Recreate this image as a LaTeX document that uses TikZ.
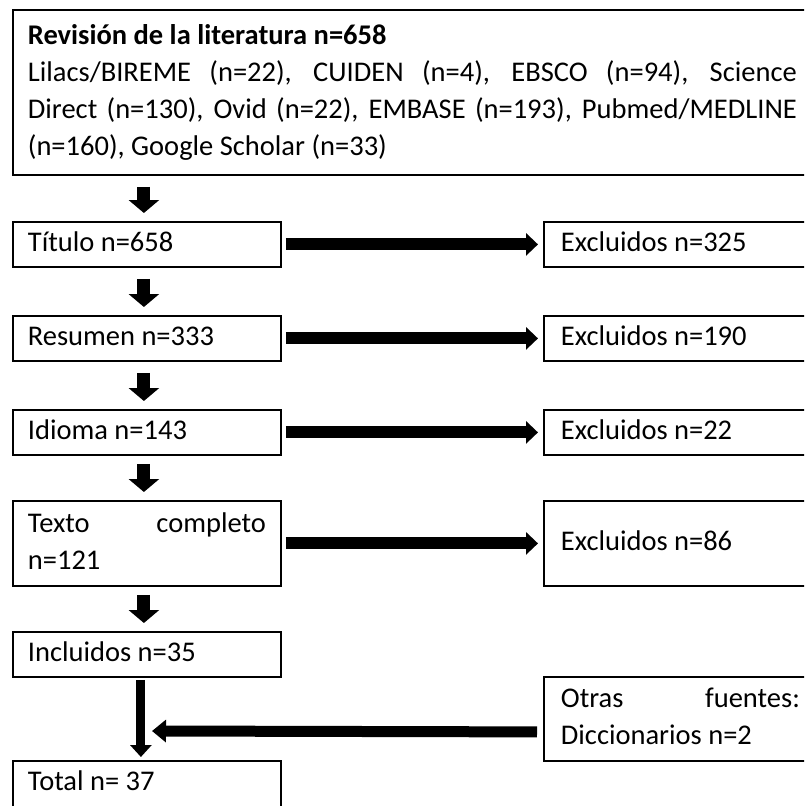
\documentclass[tikz,border=0pt]{standalone}
\usepackage{fontspec}
\setmainfont{Carlito}
\usetikzlibrary{arrows.meta,calc}
\newcommand{\fsz}{\fontsize{28.5}{37}\selectfont}
\begin{document}
\begin{tikzpicture}[x=1pt,y=-1pt,
  box/.style={draw, line width=1.8pt, anchor=north west, inner xsep=15pt, inner ysep=4pt, align=justify, font=\fsz, fill=white},
  lbox/.style={box, text width=238pt},
  rbox/.style={box, inner xsep=17pt, text width=245pt},
  varrow/.style={line width=13pt, -{Triangle[length=13pt,width=30pt]}},
  harrow/.style={line width=12pt, -{Triangle[length=12pt,width=22pt]}},
  varrowb/.style={line width=9pt, -{Triangle[length=12pt,width=21pt]}},
  larrow/.style={line width=11pt, -{Triangle[length=14pt,width=22pt]}}]
\useasboundingbox (0,0) rectangle (804,806);
\clip (0,0) rectangle (804,806);
\fill[white] (0,0) rectangle (804,806);

\node[box, inner ysep=8.5pt, text width=769pt] (top) at (12,9)
  {\strut\textbf{Revisión de la literatura n=658}\\
   Lilacs/BIREME (n=22), CUIDEN (n=4), EBSCO (n=94), Science\linebreak
   Direct (n=130), Ovid (n=22), EMBASE (n=193), Pubmed/MEDLINE\linebreak
   (n=160), Google Scholar (n=33)\strut};

\node[lbox] (titulo) at (12,221) {\strut Título n=658};
\node[rbox] (excl1) at (543,221) {\strut Excluidos n=325};
\node[lbox] (resumen) at (12,315) {\strut Resumen n=333};
\node[rbox] (excl2) at (543,315) {\strut Excluidos n=190};
\node[lbox] (idioma) at (12,409) {\strut Idioma n=143};
\node[rbox] (excl3) at (543,409) {\strut Excluidos n=22};
\node[lbox, inner ysep=5.5pt] (texto) at (12,500) {\strut Texto completo\linebreak n=121\strut};
\node[rbox, minimum height=85pt] (excl4) at (543,500) {\strut Excluidos n=86};
\node[lbox] (incl) at (12,631) {\strut Incluidos n=35};
\node[rbox, inner ysep=5pt, text width=239pt] (otras) at (543,676) {\strut Otras fuentes:\linebreak Diccionarios n=2\strut};
\node[lbox] (total) at (12,760) {\strut Total n= 37\rule[-30pt]{0pt}{0pt}};
\coordinate (join) at (152,731);

\draw[varrow] ($(titulo.north |- top.south)+(-3,11)$) -- ($(titulo.north)+(-3,-8)$);
\draw[varrow] ($(titulo.south)+(-3,11)$) -- ($(resumen.north)+(-3,-8)$);
\draw[varrow] ($(resumen.south)+(-3,11)$) -- ($(idioma.north)+(-3,-8)$);
\draw[varrow] ($(idioma.south)+(-3,8)$) -- ($(texto.north)+(-3,-8)$);
\draw[varrow] ($(texto.south)+(-3,8)$) -- ($(incl.north)+(-3,-8)$);
\draw[varrowb] ($(incl.south)+(-6,2)$) -- ($(total.north)+(-6,-3)$);

\draw[harrow] ($(titulo.east)+(4,0)$) -- ($(excl1.west)+(-5,0)$);
\draw[harrow] ($(resumen.east)+(4,0)$) -- ($(excl2.west)+(-5,0)$);
\draw[harrow] ($(idioma.east)+(4,0)$) -- ($(excl3.west)+(-5,0)$);
\draw[harrow] ($(texto.east)+(4,0)$) -- ($(excl4.west)+(-5,0)$);
\draw[larrow] ($(otras.west)+(-6,13)$) -- (join);
\end{tikzpicture}
\end{document}
